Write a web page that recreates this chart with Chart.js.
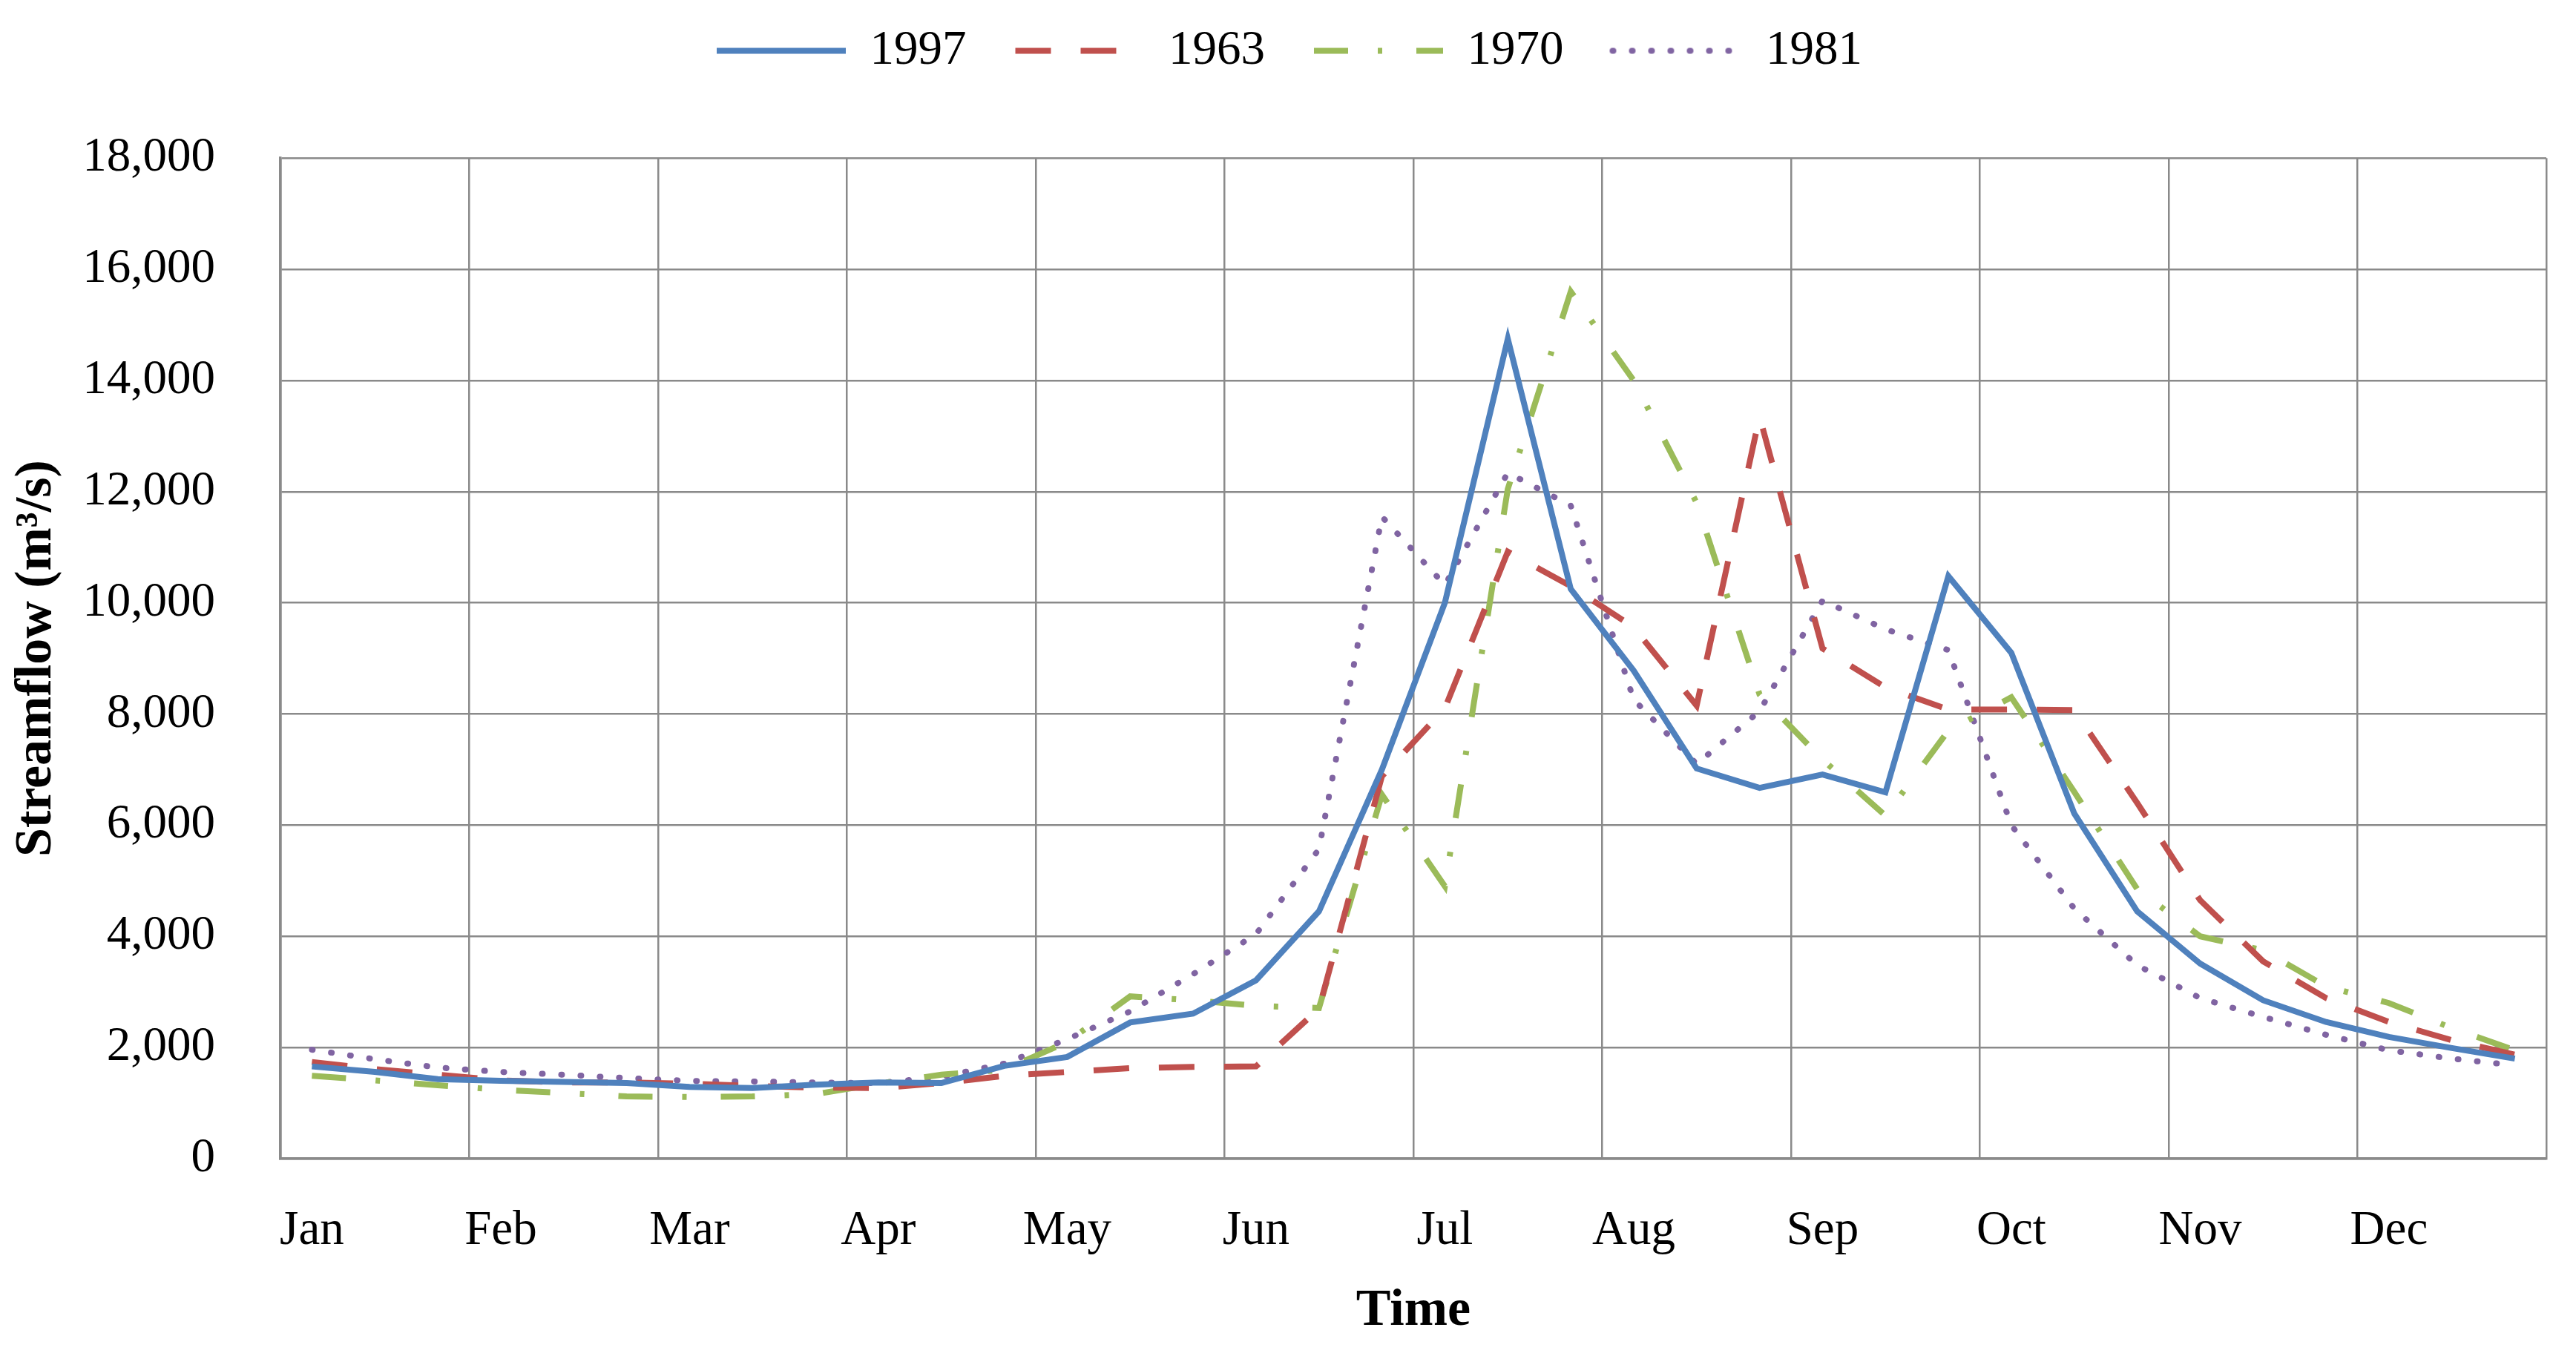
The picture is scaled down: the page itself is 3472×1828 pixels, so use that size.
<!DOCTYPE html>
<html>
<head>
<meta charset="utf-8">
<script src="https://cdn.jsdelivr.net/npm/chart.js@4.4.1/dist/chart.umd.min.js"></script>
<style>
  html, body { margin: 0; padding: 0; background: #fff; }
  canvas { display: block; }
</style>
</head>
<body>
<canvas id="flowChart" width="3472" height="1828"></canvas>
<script>
// three readings per month (ten-day periods)
const months = ['Jan', 'Feb', 'Mar', 'Apr', 'May', 'Jun', 'Jul', 'Aug', 'Sep', 'Oct', 'Nov', 'Dec'];
const periods = months.flatMap(m => [m + ' 1', m + ' 2', m + ' 3']);

const flow1997 = [1660, 1560, 1430, 1400, 1380, 1360, 1290, 1270, 1330, 1370, 1360, 1670,
                  1830, 2450, 2610, 3210, 4450, 7000, 10000, 14750, 10250, 8780, 7020, 6670,
                  6910, 6590, 10480, 9100, 6210, 4450, 3510, 2850, 2460, 2190, 1990, 1800];
const flow1963 = [1740, 1610, 1510, 1410, 1370, 1370, 1350, 1310, 1280, 1270, 1360, 1490,
                  1560, 1630, 1650, 1660, 2700, 6880, 8100, 10920, 10300, 9560, 8150, 13350,
                  9180, 8480, 8080, 8080, 8070, 6400, 4650, 3550, 2890, 2460, 2130, 1870];
const flow1970 = [1490, 1410, 1320, 1240, 1180, 1120, 1110, 1120, 1160, 1350, 1510, 1600,
                  2100, 2920, 2850, 2750, 2710, 6550, 4900, 12050, 15600, 14000, 11800, 8350,
                  7180, 6170, 7700, 8300, 6600, 4850, 4000, 3750, 3100, 2800, 2350, 1950];
const flow1981 = [1960, 1790, 1640, 1560, 1510, 1450, 1400, 1390, 1370, 1360, 1470, 1710,
                  2150, 2650, 3320, 4040, 5570, 11550, 10320, 12340, 11750, 8260, 7100, 8050,
                  10040, 9525, 9150, 6000, 4500, 3480, 2890, 2550, 2230, 1950, 1800, 1680];

const yMin = 0, yMax = 18000, yStep = 2000;

const gridColor = '#8a8a8a';
const fontFamily = "'Liberation Serif', 'Times New Roman', serif";
const lineW = 8;

// legend swatch: a short line in the series' own dash style
function legendLine(color, dash, cap) {
    const c = document.createElement('canvas');
    c.width = 210;
    c.height = 20;
    const g = c.getContext('2d');
    g.strokeStyle = color;
    g.lineWidth = lineW;
    g.lineCap = cap;
    g.setLineDash(dash);
    g.beginPath();
    g.moveTo(36, 10);
    g.lineTo(210, 10);
    g.stroke();
    return c;
}

function series(label, values, color, dash, cap) {
    return {
        label: label,
        data: values,
        borderColor: color,
        backgroundColor: color,
        borderWidth: lineW,
        borderDash: dash,
        borderCapStyle: cap,
        borderJoinStyle: 'miter',
        pointRadius: 0,
        pointHoverRadius: 0,
        pointStyle: legendLine(color, dash, cap),
        tension: 0,
        fill: false
    };
}

Chart.defaults.font.family = fontFamily;
Chart.defaults.color = '#000';

new Chart(document.getElementById('flowChart').getContext('2d'), {
    type: 'line',
    data: {
        labels: periods,
        datasets: [
            series('1997', flow1997, '#4F81BD', [], 'butt'),
            series('1963', flow1963, '#C0504D', [48, 40], 'butt'),
            series('1970', flow1970, '#9BBB59', [46, 40, 6, 46], 'butt'),
            series('1981', flow1981, '#8064A2', [1, 25], 'round')
        ]
    },
    options: {
        responsive: false,
        animation: false,
        devicePixelRatio: 1,
        layout: { padding: { top: 6, left: 8, right: 40, bottom: 10 } },
        plugins: {
            legend: {
                position: 'top',
                align: 'center',
                labels: {
                    usePointStyle: true,
                    pointStyleWidth: 210,
                    padding: 30,
                    font: { size: 65 },
                    color: '#000'
                }
            },
            // empty title used as a gap between legend and plot
            title: {
                display: true,
                text: '',
                position: 'top',
                weight: 500,
                font: { size: 1 },
                padding: { top: 0, bottom: 101 }
            },
            tooltip: { enabled: false }
        },
        scales: {
            x: {
                offset: true,
                grid: {
                    offset: true,
                    drawTicks: false,
                    lineWidth: 2.5,
                    color: ctx => (ctx.index === undefined || ctx.index % 3 === 0) ? gridColor : 'rgba(0,0,0,0)'
                },
                border: { display: true, color: gridColor, width: 3.5 },
                ticks: {
                    autoSkip: false,
                    maxRotation: 0,
                    padding: 59,
                    font: { size: 65 },
                    color: '#000',
                    callback: (v, i) => i % 3 === 0 ? months[i / 3] : ''
                },
                title: {
                    display: true,
                    text: 'Time',
                    font: { size: 70, weight: 'bold' },
                    color: '#000',
                    padding: { top: 0, bottom: 8 }
                },
                afterFit: s => { s.height = 256; }
            },
            y: {
                min: yMin,
                max: yMax,
                grid: { drawTicks: false, lineWidth: 2.5, color: gridColor },
                border: { display: true, color: gridColor, width: 3.5 },
                ticks: {
                    stepSize: yStep,
                    padding: 88,
                    font: { size: 65 },
                    color: '#000',
                    callback: v => v.toLocaleString('en-US')
                },
                title: {
                    display: true,
                    text: 'Streamflow (m³/s)',
                    font: { size: 70, weight: 'bold' },
                    color: '#000',
                    padding: { top: 0, bottom: 20 }
                },
                afterFit: s => { s.width = 370; }
            }
        }
    }
});
</script>
</body>
</html>
